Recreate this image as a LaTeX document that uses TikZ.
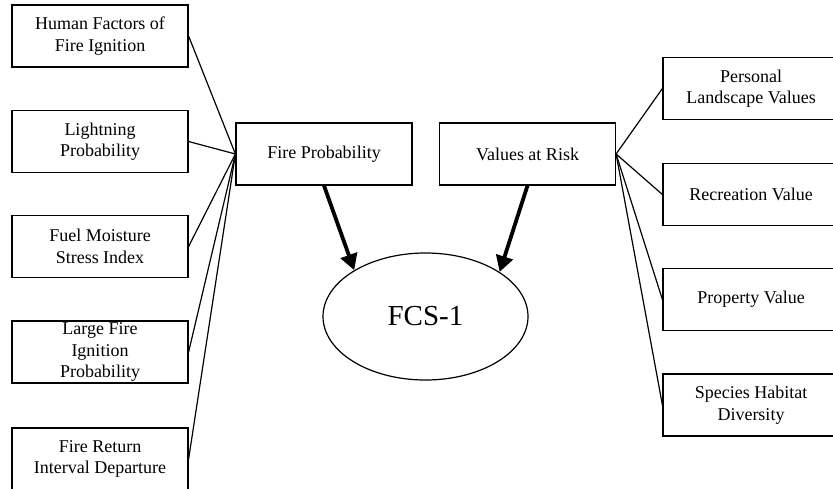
\documentclass[tikz,border=0pt]{standalone}
\usepackage{fontspec}
\setmainfont{Liberation Serif}
\usetikzlibrary{arrows.meta}
\usetikzlibrary{shapes.geometric}

\begin{document}
\begin{tikzpicture}[x=1pt, y=-1pt, line width=1.2pt,
        every node/.style={draw, rectangle, minimum width=176pt, minimum height=62pt, inner sep=0pt, align=center, font=\fontsize{18}{21.5}\selectfont}]
        \useasboundingbox (0,0) rectangle (833,488);

        \node (HF) at (100,36) {Human Factors of\\Fire Ignition};
        \node (LP) at (100,141.5) {Lightning\\Probability};
        \node (FM) at (100,246.5) {Fuel Moisture\\Stress Index};
        \node (LF) at (100,352) {Large Fire\\Ignition\\Probability};
        \node (FR) at (100,459) {Fire Return\\Interval Departure};

        \node (FP) at (324,154) {Fire Probability};
        \node (VR) at (527.5,154) {Values at Risk};

        \node (PL) at (751,88.5) {Personal\\Landscape Values};
        \node (RV) at (751,194.5) {Recreation Value};
        \node (PV) at (751,299.5) {Property Value};
        \node (SH) at (751,405) {Species Habitat\\Diversity};

        \node[ellipse, minimum width=205pt, minimum height=127pt, font=\fontsize{29}{34}\selectfont] (FCS) at (425.5,316.5) {FCS-1};

        \draw (HF.east) -- (FP.west);
        \draw (LP.east) -- (FP.west);
        \draw (FM.east) -- (FP.west);
        \draw (LF.east) -- (FP.west);
        \draw (FR.east) -- (FP.west);

        \draw (VR.east) -- (PL.west);
        \draw (VR.east) -- (RV.west);
        \draw (VR.east) -- (PV.west);
        \draw (VR.east) -- (SH.west);

        \draw[line width=3.8pt, -{Triangle[length=16pt, width=17pt]}] (FP.south) -- (FCS.147);
        \draw[line width=3.8pt, -{Triangle[length=16pt, width=17pt]}] (VR.south) -- (FCS.31);
    \end{tikzpicture}
\end{document}
